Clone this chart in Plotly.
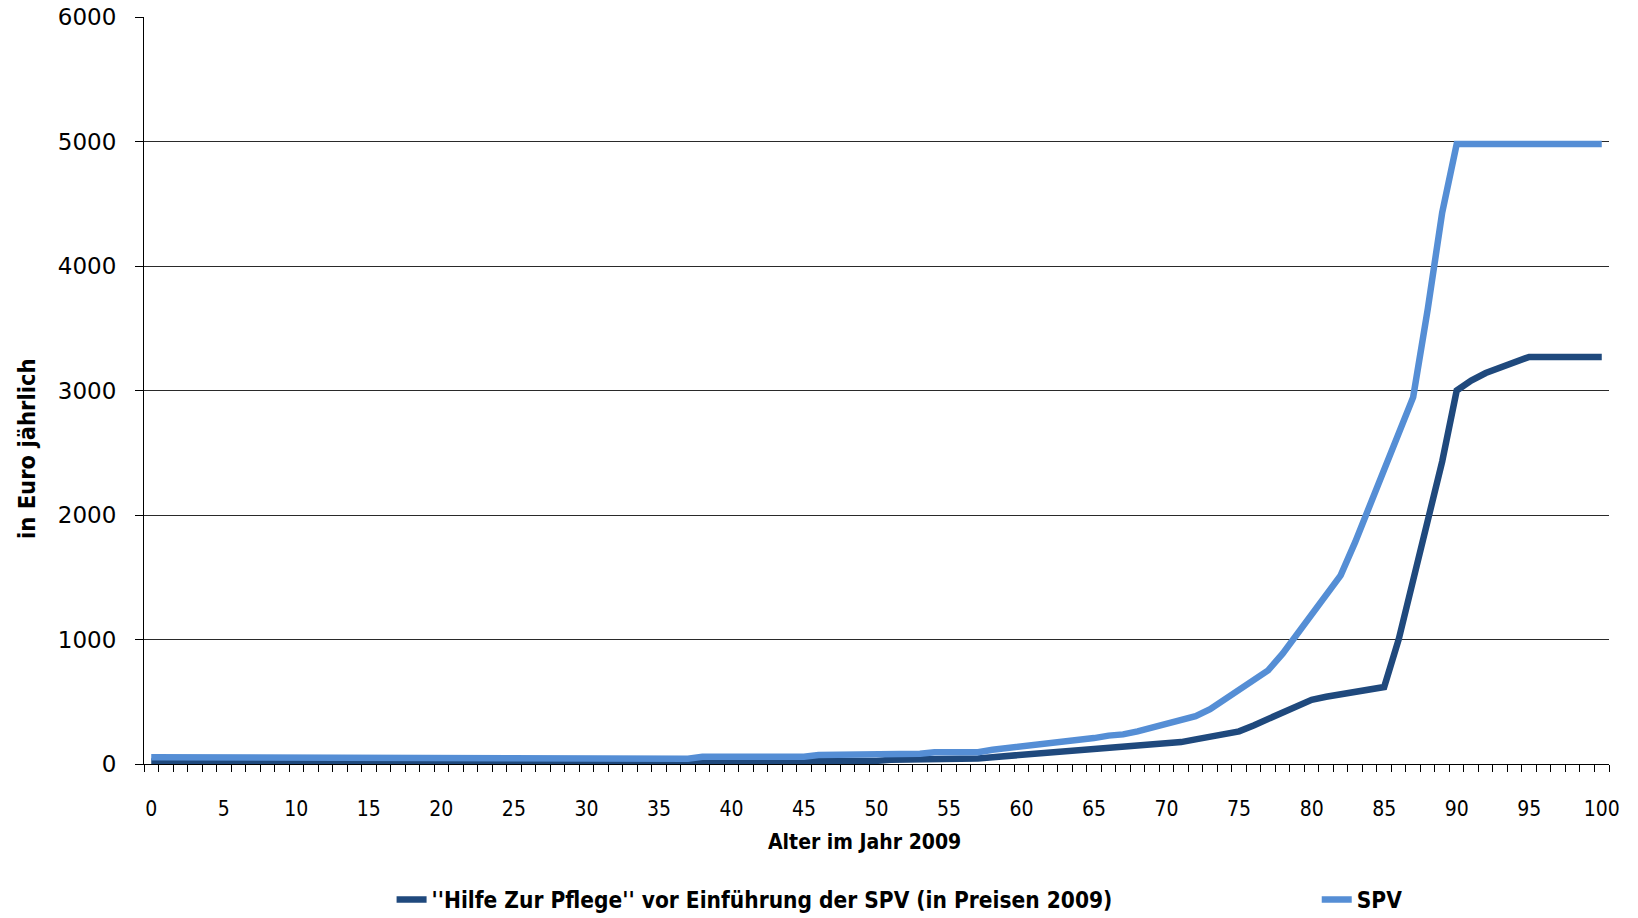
import plotly.graph_objects as go

ages = list(range(0, 101))
x_tick_labels = [str(a) for a in range(0, 101, 5)]
y_tick_values = [0, 1000, 2000, 3000, 4000, 5000, 6000]

hzp = ([20] * 22 + [12] * 16 + [20] * 8 + [25] * 5 + [35] * 5 + [45] * 2 +
       [55, 64, 77, 88, 91, 101, 112, 120, 123, 131, 141, 152, 163, 176, 198,
        215, 240, 262, 310, 364, 420, 472, 516, 540, 560, 580, 600, 618,
        1000, 1460, 1940, 2430, 3000, 3080, 3140, 3180, 3220,
        3270, 3270, 3270, 3270, 3270, 3270])

spv = ([55] * 22 + [42] * 16 + [58] * 8 + [72] * 5 + [82] * 3 + [95] * 4 +
       [115, 128, 145, 150, 162, 176, 195, 208, 228, 238, 262, 295, 323, 350,
        385, 440, 520, 590, 672, 752, 886, 1046, 1201, 1360, 1515, 1782, 2074,
        2374, 2666, 2947, 3650, 4430, 4980,
        4980, 4980, 4980, 4980, 4980, 4980, 4980, 4980, 4980, 4980])

name_hzp = "''Hilfe Zur Pflege'' vor Einführung der SPV (in Preisen 2009)"
name_spv = "SPV"

NARROW = "Liberation Sans Narrow, DejaVu Sans Condensed, Arial Narrow, sans-serif"
legend_font = dict(family=NARROW, size=22.5, color="black", weight="bold")

fig = go.Figure()
fig.add_trace(go.Scatter(x=ages, y=hzp, mode="lines", name=name_hzp,
                         line=dict(color="#1F497D", width=6.5), legend="legend"))
fig.add_trace(go.Scatter(x=ages, y=spv, mode="lines", name=name_spv,
                         line=dict(color="#558ED5", width=6.5), legend="legend2"))

fig.update_layout(
    width=1638, height=918,
    margin=dict(l=144, r=29, t=17, b=154, autoexpand=False),
    paper_bgcolor="white", plot_bgcolor="white",
    showlegend=True,
    legend=dict(orientation="h", x=0.169, y=-0.182, xanchor="left", yanchor="middle",
                font=legend_font, bgcolor="rgba(0,0,0,0)"),
    legend2=dict(orientation="h", x=0.8005, y=-0.182, xanchor="left", yanchor="middle",
                 font=legend_font, bgcolor="rgba(0,0,0,0)"),
    xaxis=dict(
        range=[-0.5, 100.5],
        tickmode="array", tickvals=list(range(0, 101, 5)), ticktext=x_tick_labels,
        ticks="", ticklabelstandoff=26,
        tickfont=dict(family=NARROW, size=21, color="black"),
        showgrid=False, zeroline=False,
        showline=True, linecolor="black", linewidth=1.2,
        ticklabeloverflow="allow",
        minor=dict(tickvals=[a - 0.5 for a in range(0, 102)], ticks="outside",
                   ticklen=7, tickcolor="black", tickwidth=1.2, showgrid=False),
    ),
    yaxis=dict(
        range=[0, 6000],
        tickmode="array", tickvals=y_tick_values,
        ticks="outside", ticklen=8, tickcolor="black", tickwidth=1.2,
        ticklabelstandoff=14, ticklabeloverflow="allow",
        tickfont=dict(family="DejaVu Sans", size=23, color="black"),
        showgrid=True, gridcolor="#2a2a2a", gridwidth=1.3,
        zeroline=False,
        showline=True, linecolor="black", linewidth=1.2,
    ),
    annotations=[
        dict(text="<b>Alter im Jahr 2009</b>", xref="paper", yref="paper",
             x=(864 - 144) / 1465, y=-(842 - 764) / 747, xanchor="center", yanchor="middle",
             showarrow=False, font=dict(family=NARROW, size=21, color="black")),
        dict(text="<b>in Euro jährlich</b>", xref="paper", yref="paper",
             x=-(144 - 27) / 1465, y=(764 - 449) / 747, xanchor="center", yanchor="middle",
             textangle=-90, showarrow=False,
             font=dict(family=NARROW, size=23.5, color="black")),
    ],
)

# remove the browser's default 8px body margin so the figure fills the window
fig.write_html("out.html",
               config={"displayModeBar": False},
               post_script="document.body.style.margin='0';document.body.style.overflow='hidden';")
